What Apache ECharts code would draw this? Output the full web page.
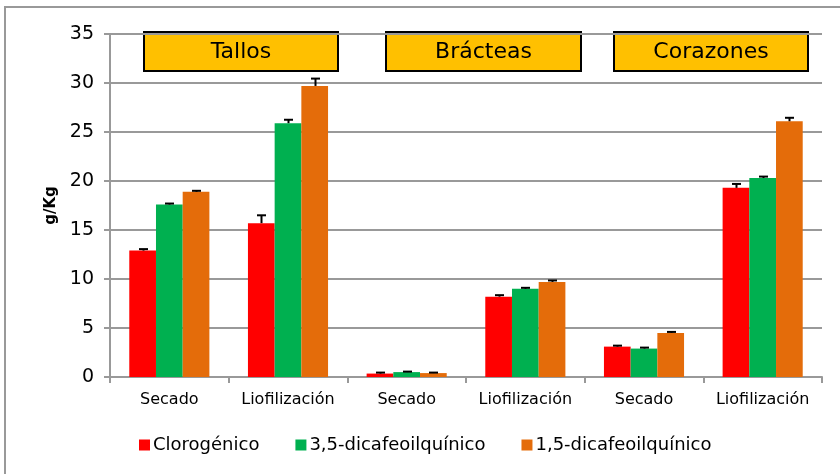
<!DOCTYPE html>
<html>
<head>
<meta charset="utf-8">
<script src="https://cdn.jsdelivr.net/npm/echarts@6/dist/echarts.min.js"></script>
<style>
  html, body { margin: 0; padding: 0; background: #fff; }
  #chart { width: 840px; height: 474px; }
</style>
</head>
<body>
<div id="chart"></div>
<script>
// categorías del eje x (dos tratamientos por cada parte de la planta)
const categories = ['Secado', 'Liofilización', 'Secado', 'Liofilización', 'Secado', 'Liofilización'];
const groups = ['Tallos', 'Brácteas', 'Corazones'];
const seriesNames = ['Clorogénico', '3,5-dicafeoilquínico', '1,5-dicafeoilquínico'];

// valores (g/Kg)
const clorogenico = [12.9, 15.7, 0.35, 8.2, 3.1, 19.3];
const dicafeo35 = [17.6, 25.9, 0.5, 9.0, 2.9, 20.3];
const dicafeo15 = [18.9, 29.7, 0.4, 9.7, 4.5, 26.1];

// barras de error (solo hacia arriba)
const errClorogenico = [0.15, 0.8, 0.1, 0.15, 0.1, 0.4];
const errDicafeo35 = [0.1, 0.35, 0.05, 0.1, 0.1, 0.15];
const errDicafeo15 = [0.1, 0.75, 0.05, 0.15, 0.1, 0.35];

const yTicks = [0, 5, 10, 15, 20, 25, 30, 35];

const colors = ['#FF0000', '#00B050', '#E46C0A'];
const values = [clorogenico, dicafeo35, dicafeo15];
const errors = [errClorogenico, errDicafeo35, errDicafeo15];
const BAR_PCT = 0.225;

const chart = echarts.init(document.getElementById('chart'));

function errorSeries(idx) {
  return {
    type: 'custom',
    name: seriesNames[idx] + ' err',
    z: 5,
    silent: true,
    renderItem: function (params, api) {
      const band = api.size([1, 0])[0];
      const off = (idx - 1) * band * BAR_PCT;
      const base = api.coord([api.value(0), api.value(1)]);
      const top = api.coord([api.value(0), api.value(1) + api.value(2)]);
      const x = Math.round(base[0] + off) + 0.5;
      const style = { stroke: '#000', lineWidth: 2 };
      return {
        type: 'group',
        children: [
          { type: 'line', shape: { x1: x, y1: base[1], x2: x, y2: top[1] }, style: style },
          { type: 'line', shape: { x1: x - 4.5, y1: top[1], x2: x + 4.5, y2: top[1] }, style: style }
        ]
      };
    },
    data: values[idx].map((v, i) => [i, v, errors[idx][i]])
  };
}

const barSeries = values.map((vals, i) => ({
  name: seriesNames[i],
  type: 'bar',
  barWidth: (BAR_PCT * 100) + '%',
  barGap: '0%',
  itemStyle: { color: colors[i] },
  data: vals
}));

// cajas amarillas con el nombre de cada parte
const boxes = [
  { x: 143, w: 194 },
  { x: 385, w: 195 },
  { x: 613, w: 194 }
];

const option = {
  animation: false,
  grid: { left: 110, right: 18, top: 34, bottom: 97 },
  legend: {
    data: seriesNames,
    left: 134,
    top: 431,
    icon: 'rect',
    itemWidth: 11,
    itemHeight: 11,
    itemGap: 36,
    textStyle: { fontFamily: 'DejaVu Sans', fontSize: 18, color: '#000', padding: [0, 0, 0, -2] }
  },
  xAxis: {
    type: 'category',
    data: categories,
    axisLine: { lineStyle: { color: '#999', width: 2 } },
    axisTick: { show: true, length: 6, lineStyle: { color: '#999', width: 2 } },
    axisLabel: { color: '#000', fontFamily: 'DejaVu Sans', fontSize: 16, margin: 15, interval: 0 }
  },
  yAxis: {
    type: 'value',
    min: yTicks[0],
    max: yTicks[yTicks.length - 1],
    interval: 5,
    name: 'g/Kg',
    nameLocation: 'middle',
    nameGap: 48,
    nameTextStyle: { color: '#000', fontFamily: 'DejaVu Sans', fontSize: 15, fontWeight: 'bold' },
    axisLine: { show: true, lineStyle: { color: '#999', width: 2 } },
    axisTick: { show: true, length: 6, lineStyle: { color: '#999', width: 2 } },
    axisLabel: { color: '#000', fontFamily: 'DejaVu Sans', fontSize: 19, margin: 16 },
    splitLine: { lineStyle: { color: '#999', width: 2 } }
  },
  graphic: [
    {
      type: 'rect',
      shape: { x: 5, y: 7, width: 840, height: 480 },
      style: { fill: 'none', stroke: '#999', lineWidth: 2 },
      silent: true
    }
  ].concat(boxes.map((b, i) => ({
    type: 'group',
    left: b.x,
    top: 31,
    z: 10,
    children: [
      {
        type: 'rect',
        shape: { x: 0, y: 0, width: b.w, height: 39 },
        style: { fill: '#FFC000', stroke: '#000', lineWidth: 2 }
      },
      {
        type: 'text',
        x: b.w / 2,
        y: 20,
        style: {
          text: groups[i],
          fill: '#000',
          font: '22px "DejaVu Sans"',
          align: 'center',
          verticalAlign: 'middle'
        }
      }
    ]
  }))),
  series: barSeries.concat([0, 1, 2].map(errorSeries))
};

chart.setOption(option);
</script>
</body>
</html>
